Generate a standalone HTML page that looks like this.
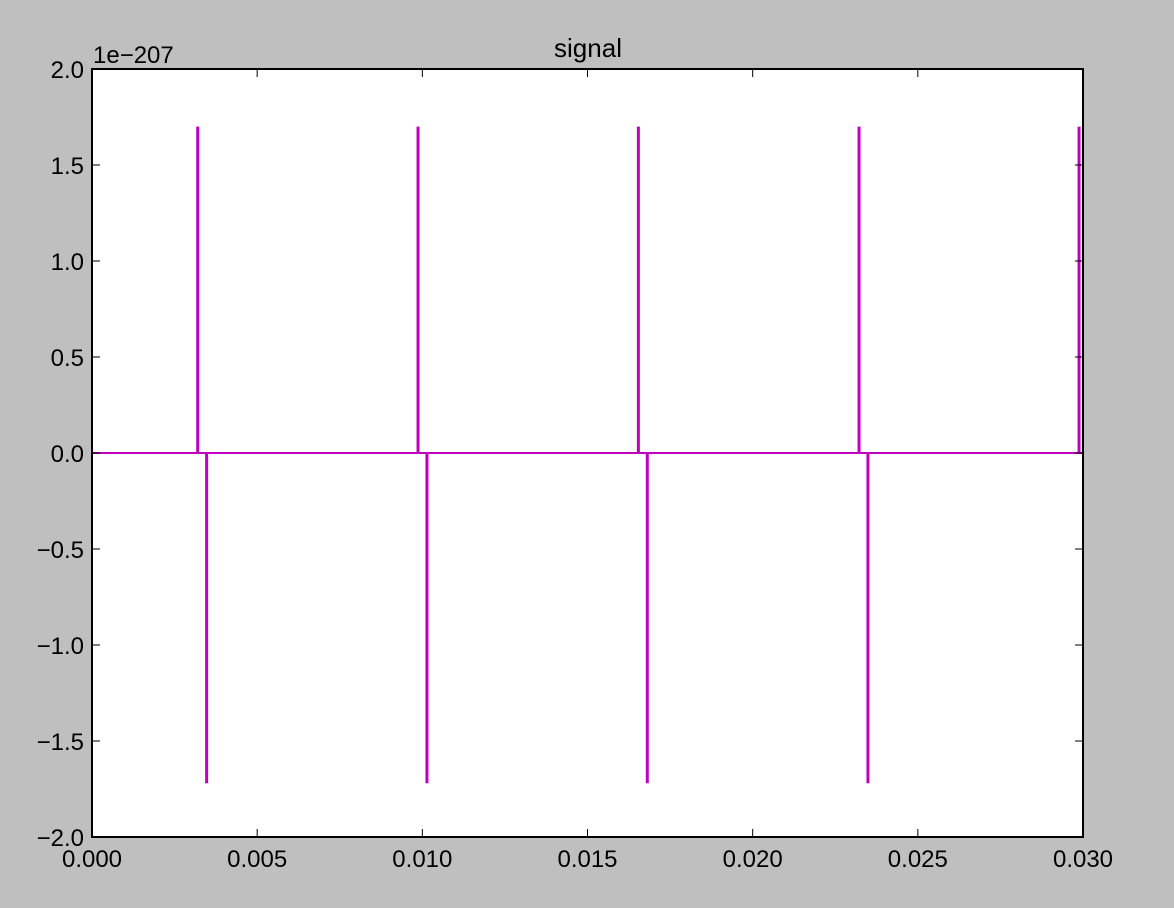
<!DOCTYPE html>
<html><head><meta charset="utf-8"><style>
body{margin:0;background:#bfbfbf;}
svg{display:block;font-family:"Liberation Sans",sans-serif;}
</style></head><body>
<svg id="chart" width="1174" height="908">
<rect width="1174" height="908" fill="#bfbfbf"/>
<rect x="92" y="69" width="991" height="768" fill="#fff"/>
<g id="marks"></g>
<g id="axes"></g>
<rect x="92" y="69" width="991" height="768" fill="none" stroke="#000" stroke-width="2"/>
<text x="588" y="57" font-size="26" text-anchor="middle">signal</text>
<text x="93" y="63" font-size="24">1e−207</text>
</svg>
<script>
const xTicks=[0,0.005,0.010,0.015,0.020,0.025,0.030];
const xTickLabels=["0.000","0.005","0.010","0.015","0.020","0.025","0.030"];
const yTicks=[2,1.5,1,0.5,0,-0.5,-1,-1.5,-2];
const yTickLabels=["2.0","1.5","1.0","0.5","0.0","−0.5","−1.0","−1.5","−2.0"];
const spikeTimes=[0.00320,0.00347,0.00987,0.01014,0.01654,0.01681,0.02322,0.02349,0.02988];
const spikeValues=[1.70,-1.72,1.70,-1.72,1.70,-1.72,1.70,-1.72,1.70];
const X0=92,X1=1083,Y0=69,Y1=837;
const sx=v=>X0+(v-0)/(0.030-0)*(X1-X0);
const sy=v=>Y1-(v+2)/4*(Y1-Y0);
const NS="http://www.w3.org/2000/svg";
const marks=document.getElementById('marks'),axes=document.getElementById('axes');
function mk(tag,attrs,parent){const e=document.createElementNS(NS,tag);for(const k in attrs)e.setAttribute(k,attrs[k]);parent.appendChild(e);return e;}
const base=mk('line',{x1:sx(0),x2:sx(0.030),y1:sy(0),y2:sy(0),stroke:'#bf00bf','stroke-width':2},marks);


spikeTimes.forEach((t,i)=>{
  const p=mk('polygon',{points:`${sx(t)-1.5},${sy(0)} ${sx(t)-1.5},${sy(spikeValues[i])} ${sx(t)+1.5},${sy(spikeValues[i])} ${sx(t)+1.5},${sy(0)}`,fill:'#bf00bf'},marks);
  
  
});
xTicks.forEach((v,i)=>{
  const x=sx(v);
  const t1=mk('line',{x1:x,x2:x,y1:Y1,y2:Y1-8,stroke:'#000','stroke-width':1},axes);
  
  
  const t2=mk('line',{x1:x,x2:x,y1:Y0,y2:Y0+8,stroke:'#000','stroke-width':1},axes);
  
  
  const l=mk('text',{x:x,y:Y1+30,'font-size':24,'text-anchor':'middle'},axes);
  l.textContent=xTickLabels[i];
  
  
});
yTicks.forEach((v,i)=>{
  const y=sy(v);
  const t1=mk('line',{x1:X0,x2:X0+8,y1:y,y2:y,stroke:'#000','stroke-width':1},axes);
  
  
  const t2=mk('line',{x1:X1,x2:X1-8,y1:y,y2:y,stroke:'#000','stroke-width':1},axes);
  
  
  const l=mk('text',{x:X0-8,y:y+9,'font-size':24,'text-anchor':'end'},axes);
  l.textContent=yTickLabels[i];
  
  
});
</script>
</body></html>
